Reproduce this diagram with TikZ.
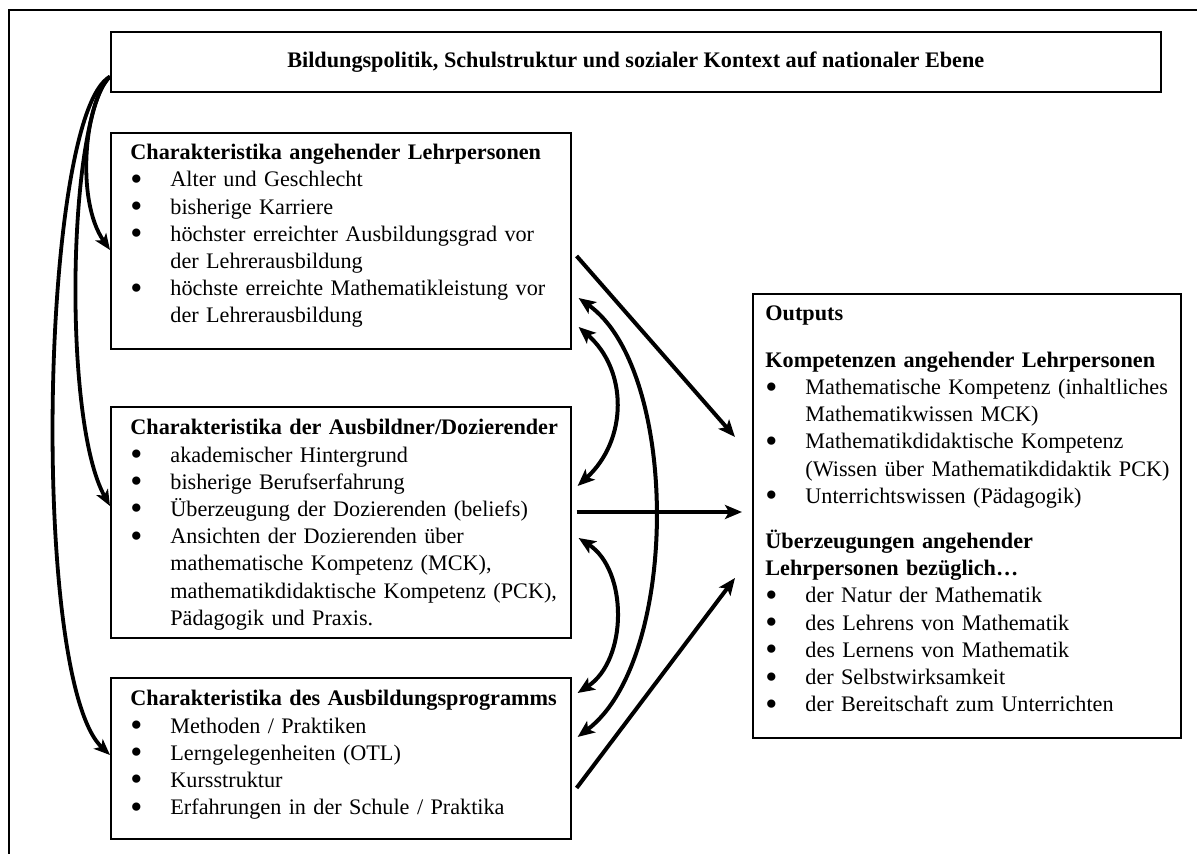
\documentclass[tikz,border=0pt]{standalone}
\usepackage{fontspec}
\setmainfont{Liberation Serif}
\usetikzlibrary{arrows.meta,calc}
\newcommand{\bigbul}{\smash{\raisebox{-0.35ex}{\scalebox{1.55}{\textbullet}}}}
\newcommand{\bul}[1]{\par\hangindent=20pt\hangafter=1\noindent\makebox[20pt][l]{\bigbul}#1\par}
\begin{document}
\begin{tikzpicture}[x=0.5pt,y=-0.5pt,
  box/.style={draw, line width=0.8pt, inner sep=0pt, anchor=north west},
  txt/.style={anchor=north west, inner sep=0pt, align=left,
    font=\fontsize{11.1pt}{13.6pt}\selectfont, execute at begin node={\parindent=0pt}},
  arr/.style={line width=2pt, -{Stealth[length=8.5pt,width=7pt,inset=2pt]}},
  darr/.style={line width=2pt, {Stealth[length=8.5pt,width=7pt,inset=2pt]}-{Stealth[length=8.5pt,width=7pt,inset=2pt]}},
  curve/.style={line width=1.9pt, -{Stealth[length=8pt,width=6.5pt,inset=2pt]}}]
\useasboundingbox (0,0) rectangle (1197,854);
\draw[line width=0.8pt] (9,854) -- (9,10) -- (1197,10);

% top box
\node[box, minimum width=525pt, minimum height=30pt,
  font=\bfseries\fontsize{11.1pt}{13.6pt}\selectfont] (top) at (110,31)
  {Bildungspolitik, Schulstruktur und sozialer Kontext auf nationaler Ebene};

% box 1
\node[box, minimum width=230pt, minimum height=108pt] (b1) at (110,132) {};
\node[txt, text width=215pt] (b1t) at (130,144) {\textbf{Charakteristika angehender Lehrpersonen}
\bul{Alter und Geschlecht}
\bul{bisherige Karriere}
\bul{höchster erreichter Ausbildungsgrad vor\newline der Lehrerausbildung}
\bul{höchste erreichte Mathematikleistung vor\newline der Lehrerausbildung}};

% box 2
\node[box, minimum width=230pt, minimum height=115.5pt] (b2) at (110,406) {};
\node[txt, text width=218pt] (b2t) at (130,419) {\textbf{Charakteristika der Ausbildner/Dozierender}
\bul{akademischer Hintergrund}
\bul{bisherige Berufserfahrung}
\bul{Überzeugung der Dozierenden (beliefs)}
\bul{Ansichten der Dozierenden über\newline mathematische Kompetenz (MCK),\newline mathematikdidaktische Kompetenz (PCK),\newline Pädagogik und Praxis.}};

% box 3
\node[box, minimum width=230pt, minimum height=80.5pt] (b3) at (110,677) {};
\node[txt, text width=218pt] (b3t) at (130,690) {\textbf{Charakteristika des Ausbildungsprogramms}
\bul{Methoden / Praktiken}
\bul{Lerngelegenheiten (OTL)}
\bul{Kursstruktur}
\bul{Erfahrungen in der Schule / Praktika}};

% outputs
\node[box, minimum width=214pt, minimum height=222pt] (out) at (752,293) {};
\node[txt, text width=210pt] (outt) at (765,305) {\textbf{Outputs}\par\vspace{10pt}
\textbf{Kompetenzen angehender Lehrpersonen}
\bul{Mathematische Kompetenz (inhaltliches\newline Mathematikwissen MCK)}
\bul{Mathematikdidaktische Kompetenz\newline (Wissen über Mathematikdidaktik PCK)}
\bul{Unterrichtswissen (Pädagogik)}\vspace{9pt}
\textbf{Überzeugungen angehender\newline Lehrpersonen bezüglich…}
\bul{der Natur der Mathematik}
\bul{des Lehrens von Mathematik}
\bul{des Lernens von Mathematik}
\bul{der Selbstwirksamkeit}
\bul{der Bereitschaft zum Unterrichten}};

% left curves
\coordinate (s) at ($(top.south west)+(0,-16)$);
\draw[curve] (s) .. controls (85,100) and (75,200) .. ($(b1.north west)+(0,118)$);
\draw[curve] (s) .. controls (68,115) and (62,420) .. ($(b2.north west)+(0,100)$);
\draw[curve] (s) .. controls (40,115) and (30,680) .. ($(b3.north west)+(0,78)$);

% double arrows between boxes
\draw[darr] ($(b1.north east)+(7,195)$) .. controls (628,370) and (628,440) .. ($(b2.north east)+(6,80)$);
\draw[darr] ($(b1.north east)+(7,166)$) .. controls (680,370) and (680,660) .. ($(b3.north east)+(6,60)$);
\draw[darr] ($(b2.north east)+(7,132)$) .. controls (628,570) and (628,660) .. ($(b3.north east)+(6,16)$);

% arrows to outputs
\draw[arr] ($(b1.north east)+(5,124)$) -- ($(out.north west)+(-17,144)$);
\draw[arr] ($(b2.north east)+(5,106)$) -- ($(out.north west)+(-10,219)$);
\draw[arr] ($(b3.north east)+(5,111)$) -- ($(out.north west)+(-17,285)$);
\end{tikzpicture}
\end{document}
